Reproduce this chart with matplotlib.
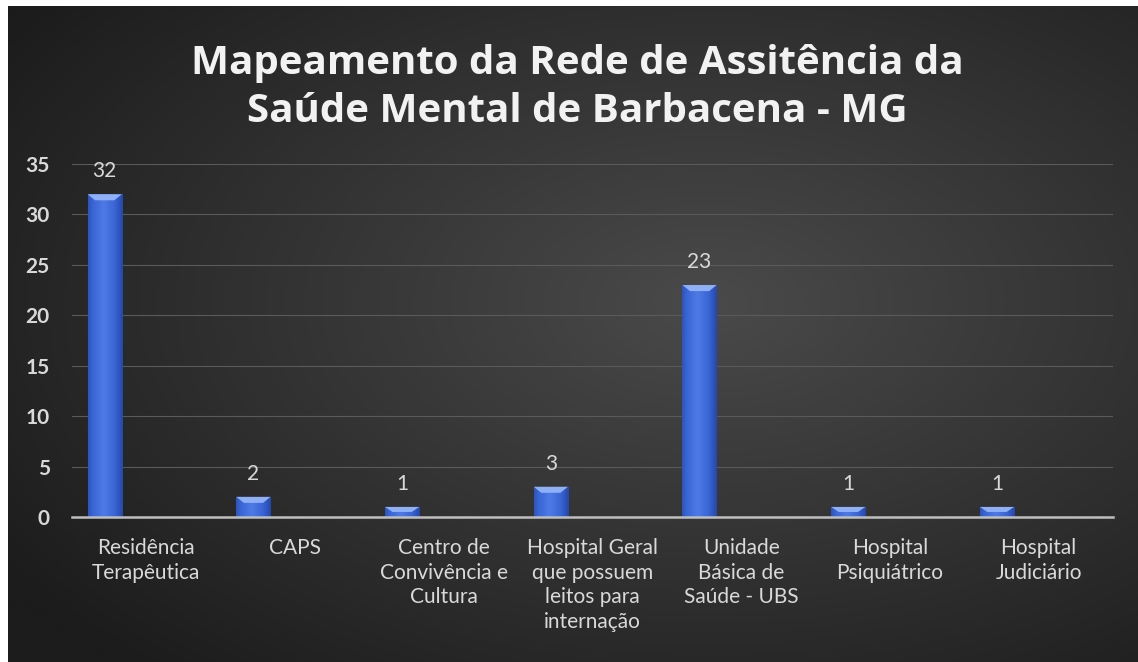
import matplotlib.pyplot as plt
import numpy as np
from matplotlib import colors
from matplotlib.patches import Polygon


TITLE = "Mapeamento da Rede de Assitência da\nSaúde Mental de Barbacena - MG"
CATEGORIES = [
    "Residência\nTerapêutica",
    "CAPS",
    "Centro de\nConvivência e\nCultura",
    "Hospital Geral\nque possuem\nleitos para\ninternação",
    "Unidade\nBásica de\nSaúde - UBS",
    "Hospital\nPsiquiátrico",
    "Hospital\nJudiciário",
]
VALUES = [32, 2, 1, 3, 23, 1, 1]
Y_TICKS = [0, 5, 10, 15, 20, 25, 30, 35]

TEXT_COLOR = '#d9d9d9'
BAR_OFFSET = -0.28   # bars sit left of the category slot (empty 2nd series)
BAR_WIDTH = 0.23


def radial_background(fig):
    bg = fig.add_axes([8 / 1138, 0, 1 - 8 / 1138, 1 - 6 / 662])
    bg.set_axis_off()
    h, w = 330, 570
    yy, xx = np.mgrid[0:h, 0:w]
    cx, cy = 0.62 * w, 0.45 * h
    r = np.sqrt(((xx - cx) / w) ** 2 + ((yy - cy) / h) ** 2)
    r = np.clip(r / 0.75, 0, 1)
    cmap = colors.LinearSegmentedColormap.from_list('bg', ['#4a4a4a', '#333333', '#1c1c1c'])
    bg.imshow(r, cmap=cmap, aspect='auto', extent=(0, 1, 0, 1), vmin=0, vmax=1)
    bg.set_xlim(0, 1)
    bg.set_ylim(0, 1)
    return bg


def shaded_bars(ax, x, values):
    bars = ax.bar(x, values, width=BAR_WIDTH, color='#3b66d4', zorder=3)
    grad = np.linspace(0, 1, 64)
    grad = 1 - np.abs(grad - 0.45) * 1.6
    grad = grad[np.newaxis, :]
    cmap = colors.LinearSegmentedColormap.from_list('bar', ['#1f3f9e', '#3a66d6', '#4f7ae6'])
    for bar, v in zip(bars, values):
        x0 = bar.get_x()
        x1 = x0 + bar.get_width()
        im = ax.imshow(grad, cmap=cmap, aspect='auto', extent=(x0, x1, 0, v),
                       zorder=4, vmin=0, vmax=1)
        im.set_clip_path(bar)
        # bevel on top
        bh = min(0.6, v * 0.5)
        d = bar.get_width() * 0.22
        cap = Polygon([(x0, v), (x1, v), (x1 - d, v - bh), (x0 + d, v - bh)],
                      closed=True, facecolor='#8fb0f5', edgecolor='none', zorder=5)
        ax.add_patch(cap)
        ax.text(x0 + bar.get_width() / 2, v + 1.3, str(v), ha='center', va='bottom',
                color=TEXT_COLOR, fontsize=15, family='Lato', zorder=6)
    return bars


def main():
    fig = plt.figure(figsize=(11.38, 6.62), dpi=100, facecolor='white')
    radial_background(fig)

    ax = fig.add_axes([72 / 1138, 1 - 517 / 662, (1113 - 72) / 1138, (517 - 164) / 662])
    ax.set_facecolor('none')

    x = np.arange(len(CATEGORIES))
    shaded_bars(ax, x + BAR_OFFSET, VALUES)

    ax.set_xlim(-0.5, len(CATEGORIES) - 0.5)
    ax.set_ylim(0, 35)
    ax.set_yticks(Y_TICKS)
    ax.set_yticklabels([str(t) for t in Y_TICKS], color=TEXT_COLOR, fontsize=15,
                       family='Lato', fontweight='bold')
    ax.set_xticks(x)
    ax.set_xticklabels(CATEGORIES, color=TEXT_COLOR, fontsize=15, family='Lato',
                       linespacing=1.3, va='top')
    ax.tick_params(axis='both', length=0)
    ax.tick_params(axis='x', pad=15)
    ax.tick_params(axis='y', pad=16)

    ax.grid(True, axis='y', color='#5a5a5a', linewidth=0.8, zorder=0)
    for side in ['top', 'right', 'left']:
        ax.spines[side].set_visible(False)
    ax.spines['bottom'].set_color('#bfbfbf')
    ax.spines['bottom'].set_linewidth(1.8)
    ax.spines['bottom'].set_zorder(7)

    fig.text(0.507, 0.934, TITLE, ha='center', va='top', color='#f2f2f2',
             fontsize=29, fontweight='bold', family='Open Sans', linespacing=1.3)

    fig.savefig('out.png', dpi=100, facecolor=fig.get_facecolor())


if __name__ == "__main__":
    main()
